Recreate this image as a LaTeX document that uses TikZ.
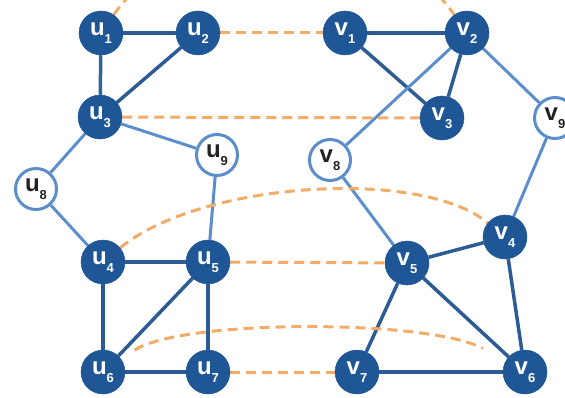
\documentclass[tikz,border=0pt]{standalone}
\usepackage{fontspec}
\setmainfont{Liberation Sans}
\usetikzlibrary{backgrounds}
\definecolor{gdark}{HTML}{1F5696}
\definecolor{gedge}{HTML}{2C5C93}
\definecolor{glight}{HTML}{5B8ECA}
\definecolor{matchor}{HTML}{F3AC68}
\definecolor{inkgray}{HTML}{222222}
\newcommand{\vlab}[2]{#1\raisebox{-0.6ex}{\fontsize{13}{13}\selectfont #2}}

\begin{document}
\begin{tikzpicture}[x=1pt, y=1pt,
  font=\fontsize{24}{25}\selectfont\bfseries,
  vtx/.style = {circle, fill=gdark, draw=gdark, line width=0.5pt, minimum size=44pt,
                inner sep=0pt, text=white},
  hol/.style = {circle, fill=white, draw=glight, line width=3pt, minimum size=41pt,
                inner sep=0pt, text=inkgray},
  ed/.style  = {draw=gedge, line width=3.5pt},
  el/.style  = {draw=glight, line width=3pt},
  mt/.style  = {draw=matchor, line width=3pt, dash pattern=on 10pt off 6pt},
]
\useasboundingbox (0,0) rectangle (565,397);
\clip (0,0) rectangle (565,397);

% --- left graph ----------------------------------------------------------------------------------
\node[vtx] (u1) at (101,364) {\vlab{u}{1}};
\node[vtx] (u2) at (198,364) {\vlab{u}{2}};
\node[vtx] (u3) at (100,280) {\vlab{u}{3}};
\node[hol] (u8) at (36,208)  {\vlab{u}{8}};
\node[hol] (u9) at (217,242) {\vlab{u}{9}};
\node[vtx] (u4) at (103,135) {\vlab{u}{4}};
\node[vtx] (u5) at (208,135) {\vlab{u}{5}};
\node[vtx] (u6) at (103,25)  {\vlab{u}{6}};
\node[vtx] (u7) at (208,25)  {\vlab{u}{7}};

% --- right graph ---------------------------------------------------------------------------------
\node[vtx] (v1) at (345,364) {\vlab{v}{1}};
\node[vtx] (v2) at (467,364) {\vlab{v}{2}};
\node[vtx] (v3) at (442,279) {\vlab{v}{3}};
\node[hol] (v9) at (555,279) {\vlab{v}{9}};
\node[hol] (v8) at (330,237) {\vlab{v}{8}};
\node[vtx] (v4) at (505,160) {\vlab{v}{4}};
\node[vtx] (v5) at (407,134) {\vlab{v}{5}};
\node[vtx] (v6) at (525,25)  {\vlab{v}{6}};
\node[vtx] (v7) at (357,25)  {\vlab{v}{7}};

\begin{scope}[on background layer]
  % --- edges -------------------------------------------------------------------------------------
  \draw[ed] (u1) -- (u2);
  \draw[ed] (u2) -- (u3);
  \draw[ed, draw=gedge!85!glight] (u1) -- (u3);
  \draw[el] (u3) -- (u8);
  \draw[el] (u3) -- (u9);
  \draw[el] (u8) -- (u4);
  \draw[el] (u9) -- (u5);
  \draw[ed] (u4) -- (u5);
  \draw[ed] (u4) -- (u6);
  \draw[ed] (u5) -- (u6);
  \draw[ed] (u5) -- (u7);
  \draw[ed] (u6) -- (u7);

  \draw[ed] (v1) -- (v2);
  \draw[ed] (v1) -- (v3);
  \draw[ed] (v2) -- (v3);
  \draw[el] (v2) -- (v8);
  \draw[el] (v2) -- (v9);
  \draw[el] (v9) -- (v4);
  \draw[el] (v8) -- (v5);
  \draw[ed] (v5) -- (v4);
  \draw[ed] (v4) -- (v6);
  \draw[ed] (v5) -- (v6);
  \draw[ed] (v5) -- (v7);
  \draw[ed] (v7) -- (v6);

  % --- matching (dashed) -------------------------------------------------------------------------
  \draw[mt] (u1) to[out=55, in=125] (v2);
  \draw[mt] (u2) -- (v1);
  \draw[mt] (u3) -- (v3);
  \draw[mt] (u4) .. controls (200,215) and (420,230) .. (v4);
  \draw[mt] (u5) -- (v5);
  \draw[mt, shorten <=16pt, shorten >=26pt] (u6) .. controls (180,78) and (430,78) .. (v6);
  \draw[mt] (u7) -- (v7);
\end{scope}

\end{tikzpicture}
\end{document}
